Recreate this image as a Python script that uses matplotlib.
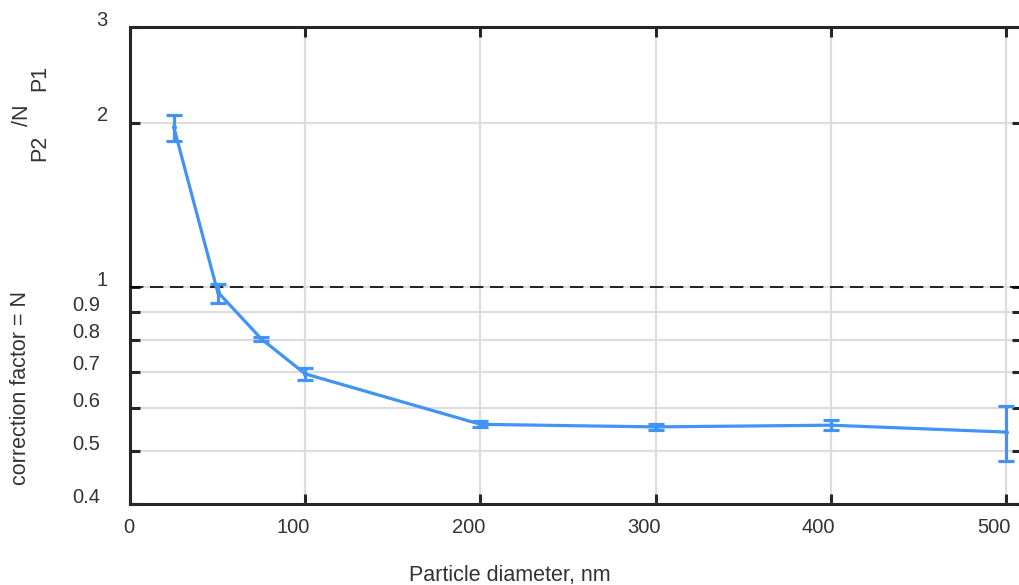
import matplotlib
matplotlib.use("Agg")
from matplotlib import pyplot as plt
from matplotlib.ticker import FixedLocator, NullLocator, FixedFormatter
from matplotlib.transforms import ScaledTranslation

# valeurs
diametre = [25, 50, 75, 100, 200, 300, 400, 500]
facteur = [1.965, 0.980, 0.803, 0.693, 0.560, 0.554, 0.558, 0.542]
err_haut = [2.069, 1.015, 0.811, 0.710, 0.567, 0.561, 0.570, 0.605]
err_bas = [1.854, 0.936, 0.795, 0.676, 0.554, 0.547, 0.547, 0.480]

x_ticks = [0, 100, 200, 300, 400, 500]
y_ticks = [0.4, 0.5, 0.6, 0.7, 0.8, 0.9, 1, 2, 3]
y_labels = ["0.4", "0.5", "0.6", "0.7", "0.8", "0.9", "1", "2", "3"]

plt.rcParams["font.family"] = ["Liberation Sans", "DejaVu Sans"]
couleur = "#4193f7"
gris = "#262626"
texte = "#333333"

W, H = 1019, 585
fig = plt.figure(figsize=(W / 100, H / 100), dpi=100)
ax = fig.add_axes([130 / W, (H - 504) / H, (1022 - 130) / W, (504 - 27) / H])

ax.set_yscale("log")
ax.set_xlim(0, 509)
ax.set_ylim(0.4, 3)

yerr = [[f - b for f, b in zip(facteur, err_bas)],
        [h - f for f, h in zip(facteur, err_haut)]]
ax.errorbar(diametre, facteur, yerr=yerr, color=couleur, linewidth=2.3,
            elinewidth=2.3, capsize=5.5, capthick=2.3, marker="o",
            markersize=2.5, zorder=4)

ax.axhline(1, color="black", linestyle=(0, (8, 4)), linewidth=1.2, zorder=3)

ax.xaxis.set_major_locator(FixedLocator(x_ticks))
ax.yaxis.set_major_locator(FixedLocator(y_ticks))
ax.yaxis.set_major_formatter(FixedFormatter(y_labels))
ax.yaxis.set_minor_locator(NullLocator())
ax.xaxis.set_minor_locator(NullLocator())

ax.grid(True, color="#dddddd", linewidth=1.6, zorder=0)
ax.set_axisbelow(True)

for s in ax.spines.values():
    s.set_color(gris)
    s.set_linewidth(2.2)

ax.tick_params(axis="both", direction="in", length=7.5, width=2.2, color=gris,
               labelsize=14.5, labelcolor=texte, top=True, right=True)
ax.tick_params(axis="y", pad=16)
ax.tick_params(axis="x", pad=10)

# petits décalages des étiquettes comme dans l'original
for lab in ax.get_yticklabels():
    dx = -0.08 if "." in lab.get_text() else 0
    lab.set_transform(lab.get_transform() + ScaledTranslation(dx, 0.09, fig.dpi_scale_trans))
for lab in ax.get_xticklabels():
    lab.set_ha("right")
    lab.set_transform(lab.get_transform() + ScaledTranslation(0.045, 0, fig.dpi_scale_trans))

# titre des axes
fig.text(510 / W, 1 - 575 / H, "Particle diameter, nm", fontsize=15.5,
         color=texte, ha="center", va="center")
fig.text(21 / W, 1 - 388 / H, "correction factor = N", fontsize=15.5,
         color=texte, ha="center", va="center", rotation=90)
fig.text(40 / W, 1 - 148 / H, "P2", fontsize=15.5,
         color=texte, ha="center", va="center", rotation=90)
fig.text(22 / W, 1 - 115 / H, "/N", fontsize=15.5,
         color=texte, ha="center", va="center", rotation=90)
fig.text(40 / W, 1 - 78 / H, "P1", fontsize=15.5,
         color=texte, ha="center", va="center", rotation=90)

fig.savefig("out.png", dpi=100)
plt.close()
